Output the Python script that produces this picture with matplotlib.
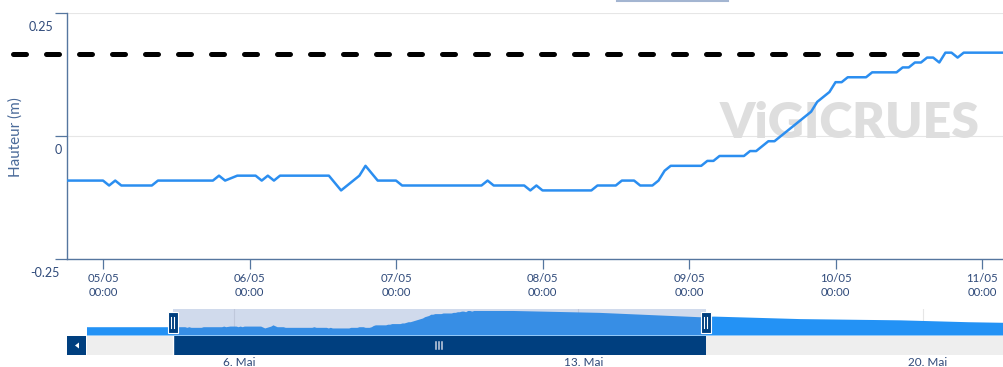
import matplotlib
matplotlib.use("Agg")
import matplotlib.pyplot as plt
import matplotlib.dates as mdates
from matplotlib.patches import Rectangle, Polygon
from matplotlib.transforms import ScaledTranslation, blended_transform_factory
from matplotlib.lines import Line2D
import pandas as pd
import numpy as np

# ---- data -------------------------------------------------------------
base_time = pd.Timestamp("2024-05-05 00:00")
# observation times (hours after base_time) and water heights (m)
obs_hours = [-48, 0, 1, 2, 3, 8, 9, 18, 19, 20, 22, 25, 26, 27, 28, 29, 37,
             39, 40, 41, 42, 43, 45, 48, 49, 62, 63, 64, 69, 70, 71, 72, 80,
             81, 84, 85, 87, 88, 90, 91, 92, 93, 98, 99, 100, 101, 105, 106,
             107, 108, 109, 110, 111, 112, 113, 114, 115, 116, 117, 118, 119,
             120, 121, 122, 125, 126, 130, 131, 132, 133, 134, 135, 136, 137,
             138, 139, 140, 141, 160, 202, 251, 258, 300, 349, 382, 400]
heights = [-0.09, -0.09, -0.10, -0.09, -0.10, -0.10, -0.09, -0.09, -0.08,
           -0.09, -0.08, -0.08, -0.09, -0.08, -0.09, -0.08, -0.08, -0.11,
           -0.10, -0.09, -0.08, -0.06, -0.09, -0.09, -0.10, -0.10, -0.09,
           -0.10, -0.10, -0.11, -0.10, -0.11, -0.11, -0.10, -0.10, -0.09,
           -0.09, -0.10, -0.10, -0.09, -0.07, -0.06, -0.06, -0.05, -0.05,
           -0.04, -0.04, -0.03, -0.03, -0.02, -0.01, -0.01, 0.00, 0.01, 0.02,
           0.03, 0.04, 0.05, 0.07, 0.08, 0.09, 0.11, 0.11, 0.12, 0.12, 0.13,
           0.13, 0.14, 0.14, 0.15, 0.15, 0.16, 0.16, 0.15, 0.17, 0.17, 0.16,
           0.17, 0.17, 0.14, 0.07, 0.08, 0.04, 0.02, -0.01, -0.02]
threshold = 0.167

view_start = pd.Timestamp("2024-05-04 18:06")
view_end = pd.Timestamp("2024-05-15 14:10")
main_right = pd.Timestamp("2024-05-11 03:36")
nav_start = pd.Timestamp("2024-05-03 00:17")
nav_end = pd.Timestamp("2024-05-21 15:40")
nav_ticks = pd.to_datetime(["2024-05-06", "2024-05-13", "2024-05-20"])
month_names = ["Jan", "Feb", "Mär", "Apr", "Mai", "Jun", "Jul", "Aug",
               "Sep", "Okt", "Nov", "Dez"]

times = base_time + pd.to_timedelta(obs_hours, unit="h")

# ---- style ------------------------------------------------------------
FONT = "Lato"
AXIS_C = "#55769f"
LABEL_C = "#2f4a7a"
LINE_C = "#2b8ef0"
NAV_C = "#2392f5"
NAVY = "#003f7f"

W, H = 1004, 367
fig = plt.figure(figsize=(W / 100, H / 100), dpi=100)
fig.patch.set_facecolor("white")


def fx(px):
    return px / W


def fy(py):
    return 1 - py / H


# ---- main chart -------------------------------------------------------
ax = fig.add_axes([fx(67), fy(259.3), fx(937), (259.3 - 13.3) / H])
ax.set_facecolor("white")
ax.plot(times, heights, color=LINE_C, lw=1.8, solid_joinstyle="round",
        zorder=4)
ax.set_xlim(view_start, main_right)
ax.set_ylim(-0.25, 0.25)

for sp in ("top", "right"):
    ax.spines[sp].set_visible(False)
for sp in ("left", "bottom"):
    ax.spines[sp].set_color(AXIS_C)
    ax.spines[sp].set_linewidth(1.0)

ax.set_yticks([-0.25, 0, 0.25])
ax.set_yticklabels(["-0.25", "0", "0.25"])
ax.yaxis.grid(True, color="#e6e6e6", lw=0.8, zorder=0)
ax.set_axisbelow(True)
ax.tick_params(axis="y", direction="out", length=8.6, width=0.9,
               color=AXIS_C, pad=0, labelsize=9, labelcolor=LABEL_C)
y_shift = {"-0.25": 5, "0": 7, "0.25": -2}
for lab in ax.get_yticklabels():
    dx = y_shift.get(lab.get_text(), 5)
    lab.set_transform(lab.get_transform() +
                      ScaledTranslation(dx / 100, -12.7 / 100,
                                        fig.dpi_scale_trans))
    lab.set_fontfamily(FONT)

ax.xaxis.set_major_locator(mdates.DayLocator())
ax.xaxis.set_major_formatter(mdates.DateFormatter("%d/%m\n%H:%M"))
ax.tick_params(axis="x", direction="out", length=7.2, width=0.9,
               color=AXIS_C, pad=3, labelsize=8.2, labelcolor=LABEL_C)
for lab in ax.get_xticklabels():
    lab.set_fontfamily(FONT)
    lab.set_linespacing(1.3)

# watermark
ax.text((850 - 67) / 937, (259.3 - 124) / 246, "ViGICRUES",
        transform=ax.transAxes, ha="center", va="center", fontsize=36,
        fontweight="heavy", family=FONT, color="#dedede", zorder=1)

# threshold line
thr_tr = blended_transform_factory(ax.transAxes, ax.transData)
ax.plot([(13 - 67) / 937, (935 - 67) / 937], [threshold, threshold],
        transform=thr_tr, color="black", lw=3.6, dashes=(2.6, 4.0),
        dash_capstyle="round", clip_on=False, zorder=5)

fig.text(fx(16), fy(137), "Hauteur (m)", rotation=90, ha="center",
         va="center", fontsize=11, family=FONT, color="#4a6a99")

# small bar at the top edge
fig.add_artist(Line2D([fx(617), fx(728)], [fy(0.8), fy(0.8)],
                      color="#a3b5d1", lw=1.5))

# ---- navigator --------------------------------------------------------
nav_lo, nav_hi = -0.223, 0.189
nav = fig.add_axes([fx(87), fy(335), fx(917), 25.7 / H])
nav.set_xlim(nav_start, nav_end)
nav.set_ylim(nav_lo, nav_hi)
nav.axis("off")
for t in nav_ticks:
    nav.axvline(t, color="#e6e6e6", lw=0.8, zorder=0)
nav.fill_between(times, heights, nav_lo, color=NAV_C, lw=0, zorder=1)
nav.axvspan(view_start, view_end, color=(102 / 255, 133 / 255, 194 / 255, 0.3),
            lw=0, zorder=2)

hw = 10 / 49.2  # handle width in days
htr = blended_transform_factory(nav.transData, nav.transAxes)
for t in (view_start, view_end):
    c = mdates.date2num(t)
    nav.add_patch(Rectangle((c - hw / 2, (335 - 333) / 25.7), hw, 21 / 25.7,
                            transform=htr, facecolor=NAVY, edgecolor="white",
                            lw=0.8, clip_on=False, zorder=5))
    for off in (-1.5, 1.5):
        nav.add_artist(Line2D([c + off / 49.2] * 2,
                              [(335 - 317) / 25.7, (335 - 328) / 25.7],
                              transform=htr, color="white", lw=0.8,
                              clip_on=False, zorder=6))

# ---- scrollbar --------------------------------------------------------
sb = fig.add_axes([fx(87), fy(355), fx(917), 19 / H])
sb.set_xlim(nav_start, nav_end)
sb.set_ylim(0, 1)
sb.set_facecolor("#eeeeee")
for sp in sb.spines.values():
    sp.set_visible(False)
sb.axvspan(view_start, view_end, color=NAVY, lw=0)
sb.axvline(view_start, color="white", lw=1.0)
mid = mdates.date2num(view_start) + (mdates.date2num(view_end) -
                                     mdates.date2num(view_start)) / 2
for off in (-3, 0, 3):
    sb.plot([mid + off / 49.2] * 2, [0.3, 0.68], color="#c7d0e2", lw=1.1)
sb.set_yticks([])
sb.set_xticks(nav_ticks)
sb.set_xticklabels([f"{t.day}. {month_names[t.month - 1]}" for t in nav_ticks])
sb.tick_params(axis="x", length=0, pad=1.5, labelsize=8.5, labelcolor=LABEL_C)
for lab in sb.get_xticklabels():
    lab.set_fontfamily(FONT)
    lab.set_transform(lab.get_transform() +
                      ScaledTranslation(5 / 100, 0, fig.dpi_scale_trans))

# left arrow button
fig.add_artist(Rectangle((fx(67), fy(355)), fx(19.5), 19 / H,
                         facecolor=NAVY, edgecolor="none"))
fig.add_artist(Polygon([[fx(75), fy(345.5)], [fx(79), fy(342.5)],
                        [fx(79), fy(348.5)]], closed=True,
                       facecolor="white", edgecolor="none"))

fig.savefig("out.png", dpi=100)
